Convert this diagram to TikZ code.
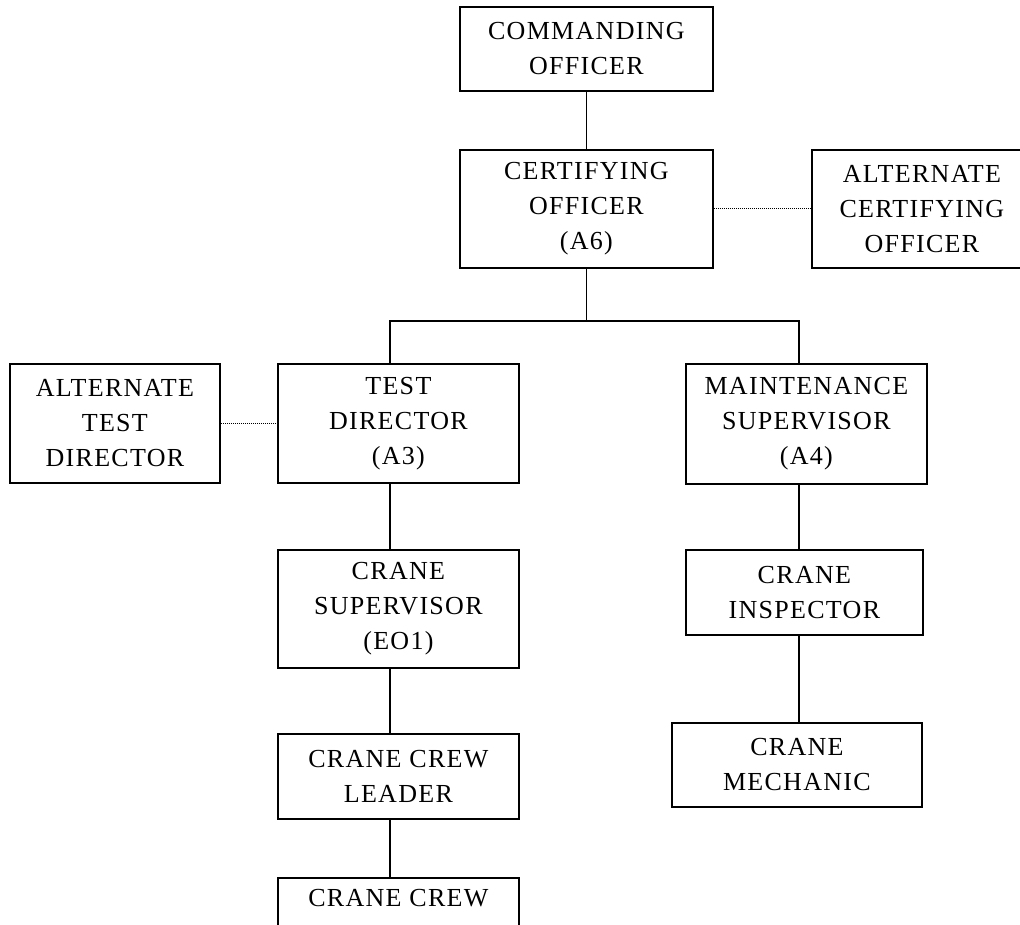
\documentclass[tikz,border=0pt]{standalone}
\usepackage{fontspec}
\setmainfont{Liberation Serif}[LetterSpace=5]
\begin{document}
\begin{tikzpicture}[x=1pt,y=-1pt,
  box/.style={draw, line width=1.8pt, align=center, inner sep=0pt, anchor=north west,
    font=\fontsize{26}{35}\selectfont},
  link/.style={line width=1.8pt},
  alt/.style={line width=1pt, densely dotted}]
\useasboundingbox (0,0) rectangle (1020,925);
\clip (0,0) rectangle (1020,925);
\fill[white] (0,0) rectangle (1020,925);
% nodes (left, top) with width/height
\node[box, minimum width=253pt, minimum height=84pt]  (co)      at (459,6)   {COMMANDING\\OFFICER};
\node[box, minimum width=253pt, minimum height=118pt] (cert)    at (459,149) {CERTIFYING\\OFFICER\\(A6)};
\node[box, minimum width=220pt, minimum height=118pt] (altcert) at (811,149) {ALTERNATE\\CERTIFYING\\OFFICER};
\node[box, minimum width=210pt, minimum height=119pt] (alttd)   at (9,363)   {ALTERNATE\\TEST\\DIRECTOR};
\node[box, minimum width=241pt, minimum height=119pt] (td)      at (277,363) {TEST\\DIRECTOR\\(A3)};
\node[box, minimum width=241pt, minimum height=120pt] (ms)      at (685,363) {MAINTENANCE\\SUPERVISOR\\(A4)};
\node[box, minimum width=241pt, minimum height=118pt] (cs)      at (277,549) {CRANE\\SUPERVISOR\\(EO1)};
\node[box, minimum width=237pt, minimum height=85pt]  (ci)      at (685,549) {CRANE\\INSPECTOR};
\node[box, minimum width=241pt, minimum height=85pt]  (ccl)     at (277,733) {CRANE CREW\\LEADER};
\node[box, minimum width=250pt, minimum height=84pt]  (cm)      at (671,722) {CRANE\\MECHANIC};
\node[box, minimum width=241pt, minimum height=85pt]  (cc)      at (277,877) {CRANE CREW\\\strut};
% connectors
\coordinate (bus) at (cert.south |- 0,321);
\draw[link] (co.south) -- (cert.north);
\draw[link] (cert.south) -- (bus);
\draw[link] ([xshift=-8.5pt]td.north) |- (bus) -| ([xshift=-7.5pt]ms.north);
\draw[alt] (cert.east) -- (altcert.west);
\draw[alt] (alttd.east) -- (td.west);
\draw[link] ([xshift=-8.5pt]td.south) -- ([xshift=-8.5pt]cs.north);
\draw[link] ([xshift=-8.5pt]cs.south) -- ([xshift=-8.5pt]ccl.north);
\draw[link] ([xshift=-8.5pt]ccl.south) -- ([xshift=-8.5pt]cc.north);
\draw[link] ([xshift=-7.5pt]ms.south) -- ([xshift=-5.5pt]ci.north);
\draw[link] ([xshift=-5.5pt]ci.south) -- ([xshift=2pt]cm.north);
\end{tikzpicture}
\end{document}
